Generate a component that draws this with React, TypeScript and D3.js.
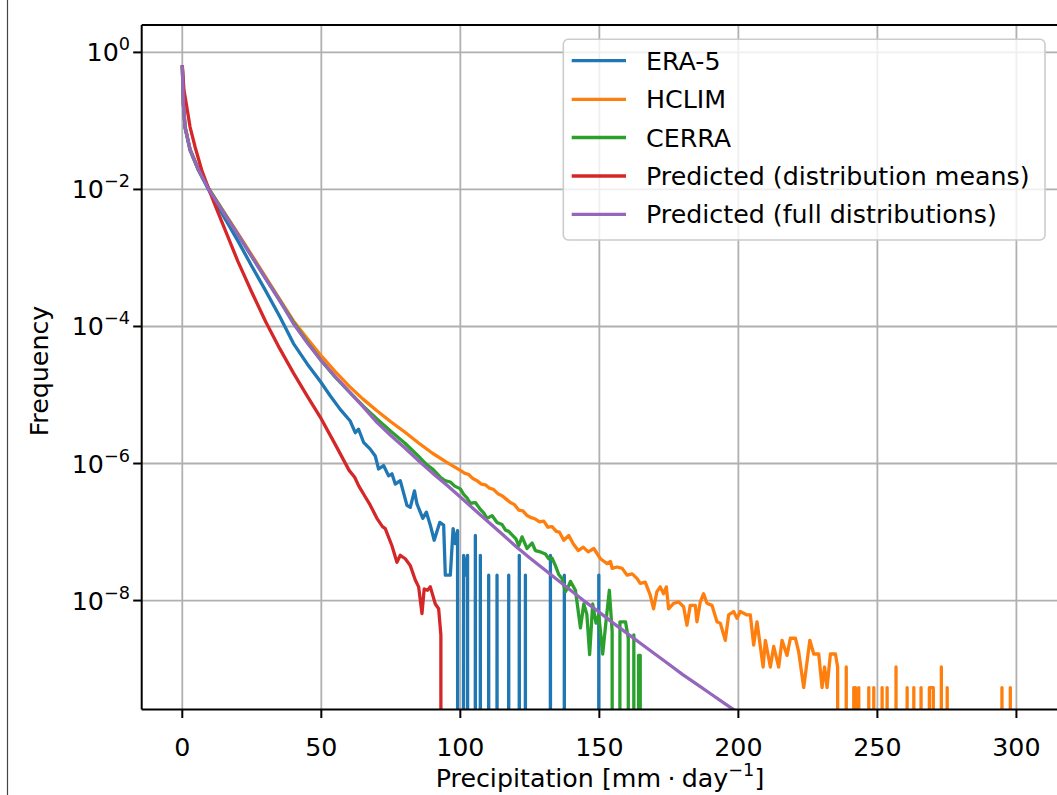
import React from "react";
import * as d3 from "d3";

const W = 1057;
const H = 795;

// Values: x in mm/day, y as log10(frequency); null = zero frequency (clipped to the bottom)
const era5X = [0, 0.4, 1, 2.8, 5.8, 9.4, 15, 20, 25, 30, 35, 40, 45, 49.6, 53.2, 56.8, 60.4, 62.2, 63.4, 65.2, 67.6, 69.4, 70.6, 72.4, 74.2, 75.4, 76.6, 78.4, 80.8, 82, 83.5, 84.4, 86.5, 87.8, 89.2, 90.6, 92.6, 94, 94.6, 96.4, 97.4, 98.2, 99, 99.7,
  101.2, 101.9, 102.6, 103.2, 104.8, 105.4, 106, 106.6, 107.2, 107.8, 109.6, 110.2, 110.8, 112.6, 113.2, 113.8, 116.8, 117.4, 118, 120.6, 121.2, 121.8, 122.8, 123.4, 124, 131.8, 132.4, 133, 136.8, 137.4, 138, 149.2, 149.8, 150.4];
const era5Log = [-0.19, -0.78, -1.1, -1.43, -1.72, -2.0, -2.4, -2.75, -3.12, -3.48, -3.85, -4.25, -4.55, -4.8, -5.01, -5.21, -5.38, -5.55, -5.5, -5.69, -5.79, -5.89, -6.08, -6.03, -6.18, -6.15, -6.3, -6.25, -6.61, -6.64, -6.4, -6.59, -6.8, -6.71, -6.9, -7.12, -6.86, -6.9, -7.63, -7.63, -6.95, -7.17, -6.98, null,
  -7.34, -7.63, -7.34, null, null, -7.05, null, null, -7.34, null, null, -7.63, null, null, -7.63, null, null, -7.63, null, null, -7.34, null, null, -7.63, null, null, -7.34, null, null, -7.63, null, null, -7.63, null];

const hclimX = [0, 0.4, 1, 2.8, 5.8, 9.4, 15, 20, 25, 30, 35, 40, 45, 50, 55, 60, 65, 70, 75, 80, 85, 90, 95, 100, 101.5, 103, 104.5, 106, 107.5, 109, 110.5, 112, 113.5, 115, 116.5, 118, 119.5, 121, 122.5, 124, 125.5, 127, 128.5, 130, 131.5, 133, 134.5,
  135.6, 137.2, 139, 140.6, 142.4, 144.2, 146, 148, 150.4, 152.8, 154, 154.6, 156.4, 158.2, 160, 161.8, 163.6, 164.7, 166.5, 168.3, 169.5, 170.7, 171.9, 173.1, 174.1, 174.9, 176.7, 178.5, 180.3, 181.5, 182.7, 184.5, 185.1, 186.3, 187.5, 188.7, 190.5, 192.3, 193.5, 195.3, 196.5, 198.3, 199.5, 200.7, 203.1,
  204.3, 205.5, 206.7, 208.9, 209.7, 211.5, 212.7, 214.5, 215.7, 217.5, 218.7, 220.5, 221.7, 223.5, 225.7, 227.1, 228.9, 230.1, 231, 231.9, 233.1, 234.9, 235.7, 236.3,
  238.2, 238.8, 239.4, 240.9, 241.5, 242.1, 242.7, 243.3, 243.9, 246.3, 246.9, 247.5, 248.1, 248.7, 249.3, 251.1, 251.7, 252.3, 252.9, 253.5, 254.1, 256.1, 256.7, 257.3, 260.1, 260.7, 261.3, 262.5, 263.1, 263.7, 265.1, 265.7, 266.3, 268.1, 268.7, 269.4, 270.1, 270.7, 272.4, 273, 273.6, 274.5, 275.1, 275.7, 294.2, 294.8, 295.4, 297.2, 297.8, 298.4];
const hclimLog = [-0.19, -0.76, -1.08, -1.41, -1.7, -1.98, -2.33, -2.64, -2.96, -3.28, -3.6, -3.92, -4.18, -4.43, -4.66, -4.87, -5.06, -5.23, -5.39, -5.54, -5.7, -5.85, -5.98, -6.1, -6.14, -6.16, -6.22, -6.25, -6.3, -6.31, -6.36, -6.38, -6.44, -6.47, -6.52, -6.57, -6.6, -6.68, -6.69, -6.76, -6.79, -6.81, -6.85, -6.84, -6.93, -6.92, -6.99,
  -7.0, -7.12, -7.05, -7.17, -7.27, -7.22, -7.29, -7.24, -7.39, -7.46, -7.43, -7.53, -7.51, -7.53, -7.63, -7.61, -7.68, -7.75, -7.73, -7.92, -8.12, -7.87, -7.8, -7.9, -7.8, -8.12, -8.04, -8.02, -8.09, -8.36, -8.07, -8.07, -8.31, -8.02, -7.9, -8.04, -8.07, -8.31, -8.33, -8.58, -8.21, -8.16, -8.26, -8.16, -8.21,
  -8.21, -8.65, -8.31, -8.97, -8.58, -8.97, -8.67, -8.97, -8.58, -8.8, -8.55, -8.55, -8.75, -9.27, -8.58, -8.78, -8.78, -9.27, -8.97, -9.27, -8.78, -8.78, -8.97, null,
  null, -8.97, null, null, -9.27, -9.27, null, -9.27, null, null, -9.27, null, null, -9.27, null, null, -9.27, null, null, -9.27, null, null, -8.97, null, null, -9.27, null, null, -9.27, null, null, -9.27, null, null, -9.27, -9.27, -9.27, null, null, -8.97, null, null, -9.27, null, null, -9.27, null, null, -9.27, null];

const cerraX = [0, 0.4, 1, 2.8, 5.8, 9.4, 15, 20, 25, 30, 35, 40, 45, 50, 55, 60, 65, 70, 75, 80, 85.6, 88, 90, 92.8, 94.5, 96.4, 98, 100, 101.2, 102.4, 103.6, 105.4, 107.2, 108.4, 109.6, 111.4, 113.2, 115, 116.2, 117.4, 118.6, 120, 121, 122.2, 124, 125.8, 127, 128.8, 130.6, 131.8, 133, 134.2, 135.4, 136.6, 137.8, 138.8, 139.6, 141.4, 143.2, 144.4, 145.5, 146.5, 147.6, 148.8, 149.8, 151.2, 152.4, 153.6, 154.6, 155.4, 156.6, 157.4, 159.4, 160.4, 161.1, 161.8, 162.4, 163.1, 163.6, 164.1, 164.7, 165.3];
const cerraLog = [-0.19, -0.76, -1.09, -1.42, -1.71, -1.98, -2.34, -2.66, -2.98, -3.3, -3.62, -3.94, -4.23, -4.5, -4.74, -4.95, -5.16, -5.35, -5.53, -5.7, -5.92, -6.02, -6.08, -6.2, -6.25, -6.27, -6.33, -6.37, -6.45, -6.5, -6.58, -6.57, -6.67, -6.72, -6.8, -6.76, -6.86, -6.89, -6.97, -6.99, -7.04, -7.1, -7.2, -7.07, -7.24, -7.16, -7.27, -7.29, -7.32, -7.39, -7.38, -7.49, -7.62, -7.68, -7.87, -7.8, -7.72, -7.85, -8.4, -8.05, -8.2, -8.79, -8.05, -8.33, -8.21, -8.78, -8.3, -7.85, -8.45, null, null, -8.31, -8.31, -8.55, null, null, -8.5, null, null, -8.8, -8.8, null];

const meansX = [0, 0.6, 1.6, 2.8, 4.6, 7, 9.4, 12, 15, 20, 25, 30, 35, 40, 45, 50, 55, 60, 62, 63.5, 66, 67.5, 70, 72, 73, 75.4, 77.2, 78.4, 80.2, 82, 83.8, 85, 86.2, 87, 88.2, 89.2, 91, 92.2, 93, 93.6];
const meansLog = [-0.19, -0.55, -0.79, -1.09, -1.38, -1.72, -1.98, -2.25, -2.55, -3.05, -3.5, -3.93, -4.32, -4.68, -5.02, -5.35, -5.72, -6.1, -6.2, -6.33, -6.5, -6.6, -6.8, -6.92, -6.95, -7.2, -7.44, -7.34, -7.39, -7.49, -7.7, -7.8, -8.19, -7.83, -7.85, -7.8, -8.05, -8.12, -8.5, null];

const fullX = [0, 0.4, 1, 2.8, 5.8, 9.4, 15, 20, 25, 30, 35, 40, 45, 50, 55, 60, 65, 70, 75, 80, 85, 90, 95, 100, 105, 110, 115, 120, 125, 130, 135, 140, 145, 150, 155, 160, 165, 170, 175, 180, 185, 190, 195, 200];
const fullLog = [-0.19, -0.75, -1.09, -1.42, -1.71, -1.99, -2.35, -2.66, -2.98, -3.3, -3.62, -3.96, -4.24, -4.5, -4.73, -4.95, -5.17, -5.4, -5.59, -5.77, -5.96, -6.14, -6.31, -6.49, -6.67, -6.85, -7.03, -7.21, -7.38, -7.54, -7.7, -7.86, -8.02, -8.17, -8.33, -8.48, -8.63, -8.78, -8.93, -9.08, -9.22, -9.36, -9.5, -9.64];

const seriesNames = ["ERA-5", "HCLIM", "CERRA", "Predicted (distribution means)", "Predicted (full distributions)"];
const seriesColors = ["#1f77b4", "#ff7f0e", "#2ca02c", "#d62728", "#9467bd"];
const xTicks = [0, 50, 100, 150, 200, 250, 300];
const yTickExps = [0, -2, -4, -6, -8];

const seriesX = [era5X, hclimX, cerraX, meansX, fullX];
const seriesLog = [era5Log, hclimLog, cerraLog, meansLog, fullLog];

const PL = 141.7, PR = 1059, PT = 25, PB = 709.5;
const FONT = "DejaVu Sans, sans-serif";
const FS = 25.3;
const SUP = 17.7;

export default function App() {
  const x = d3.scaleLinear().domain([-14.6, 314.2]).range([PL, 1055.9]);
  const y = d3.scaleLog().domain([Math.pow(10, -9.59), Math.pow(10, 0.4)]).range([PB, PT]);

  const line = d3
    .line<[number, number | null]>()
    .x((d) => x(d[0]))
    .y((d) => (d[1] === null ? PB + 5000 : y(Math.pow(10, d[1] as number))));

  const paths = seriesX.map((xs, i) => line(xs.map((v, j) => [v, seriesLog[i][j]] as [number, number | null])) || "");

  const legX = 563.3, legY = 39.3, legW = 481.7, legH = 200.7;
  const legRowY = [60.7, 99.3, 137.5, 176, 214.3];

  return (
    <svg width={W} height={H} style={{ position: "absolute", left: 0, top: 0, background: "#fff" }} xmlns="http://www.w3.org/2000/svg">
      <defs>
        <clipPath id="plotclip">
          <rect x={PL} y={PT} width={PR - PL} height={PB - PT} />
        </clipPath>
      </defs>
      <rect x={0} y={0} width={W} height={H} fill="#fff" />
      <line x1={7.5} x2={7.5} y1={0} y2={H} stroke="#444" strokeWidth={1.2} />
      {/* grid */}
      <g stroke="#b0b0b0" strokeWidth={1.8}>
        {xTicks.map((t) => (
          <line key={"gx" + t} x1={x(t)} x2={x(t)} y1={PT} y2={PB} />
        ))}
        {yTickExps.map((e) => (
          <line key={"gy" + e} x1={PL} x2={PR} y1={y(Math.pow(10, e))} y2={y(Math.pow(10, e))} />
        ))}
      </g>
      {/* series */}
      <g clipPath="url(#plotclip)" fill="none" strokeWidth={3.3} strokeLinejoin="round" strokeLinecap="butt">
        {paths.map((p, i) => (
          <path key={i} d={p} stroke={seriesColors[i]} />
        ))}
      </g>
      {/* spines */}
      <g stroke="#000" strokeWidth={2} fill="none">
        <line x1={PL} x2={PL} y1={PT} y2={PB} />
        <line x1={PL} x2={PR} y1={PB} y2={PB} />
        <line x1={PL} x2={PR} y1={PT} y2={PT} />
        <line x1={PR} x2={PR} y1={PT} y2={PB} />
      </g>
      {/* ticks */}
      <g fontFamily={FONT} fontSize={FS} fill="#000">
        {xTicks.map((t) => (
          <g key={"xt" + t}>
            <line x1={x(t)} x2={x(t)} y1={PB} y2={PB + 8.5} stroke="#000" strokeWidth={2} />
            <text x={x(t)} y={PB + 46} textAnchor="middle">{t}</text>
          </g>
        ))}
        {yTickExps.map((e) => (
          <g key={"yt" + e}>
            <line x1={PL - 8.5} x2={PL} y1={y(Math.pow(10, e))} y2={y(Math.pow(10, e))} stroke="#000" strokeWidth={2} />
            <text x={130} y={y(Math.pow(10, e)) + 9} textAnchor="end">
              10<tspan dy={-11} fontSize={SUP}>{e === 0 ? "0" : "\u2212" + Math.abs(e)}</tspan>
            </text>
          </g>
        ))}
      </g>
      {/* axis labels */}
      <text x={600} y={787} textAnchor="middle" fontFamily={FONT} fontSize={FS} fill="#000">
        Precipitation [mm{"\u2005\u00b7\u2005"}day<tspan dy={-11} fontSize={SUP}>{"\u22121"}</tspan><tspan dy={11}>]</tspan>
      </text>
      <text transform={`translate(48,371) rotate(-90)`} textAnchor="middle" fontFamily={FONT} fontSize={FS} fill="#000">
        Frequency
      </text>
      {/* legend */}
      <rect x={legX} y={legY} width={legW} height={legH} rx={5} fill="#fff" fillOpacity={0.8} stroke="#cccccc" strokeWidth={1.6} />
      {seriesNames.map((n, i) => (
        <g key={n}>
          <line x1={571.7} x2={626} y1={legRowY[i]} y2={legRowY[i]} stroke={seriesColors[i]} strokeWidth={3.3} />
          <text x={646} y={legRowY[i] + 9} fontFamily={FONT} fontSize={FS} fill="#000">{n}</text>
        </g>
      ))}
    </svg>
  );
}
